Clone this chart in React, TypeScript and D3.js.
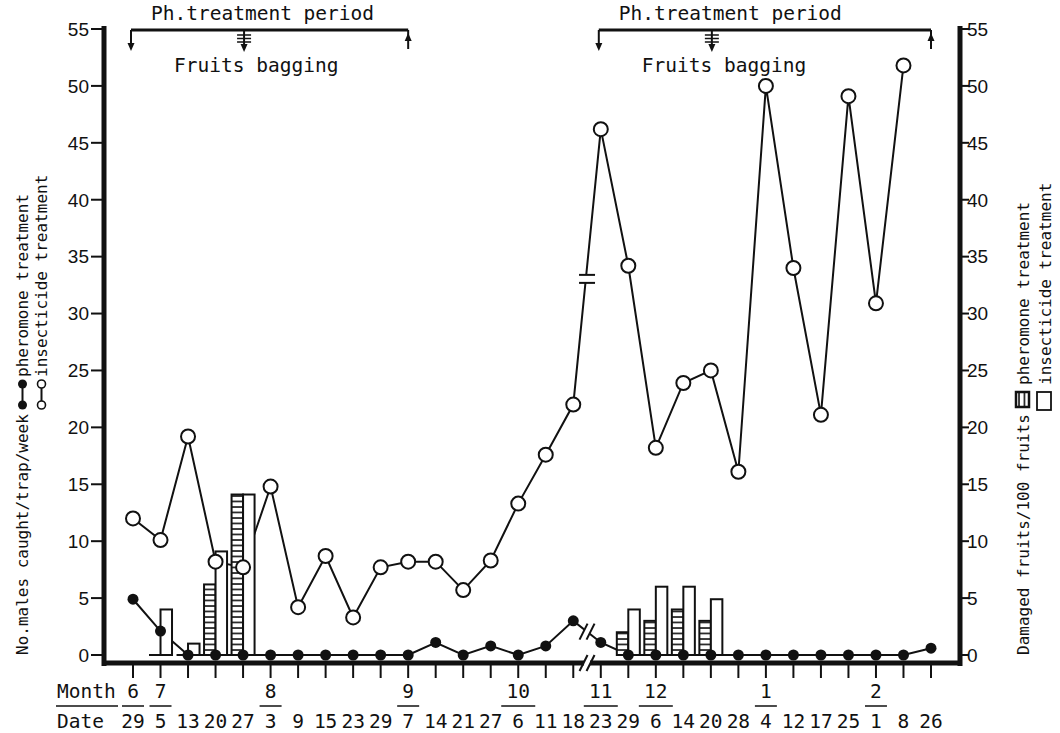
import React, { useEffect, useRef } from 'react';
import * as d3 from 'd3';

// sampling dates (one per trap check), month labels and where they sit
const dateLabels = ['29', '5', '13', '20', '27', '3', '9', '15', '23', '29', '7', '14', '21', '27', '6', '11', '18',
  '23', '29', '6', '14', '20', '28', '4', '12', '17', '25', '1', '8', '26'];
const monthLabels = ['6', '7', '8', '9', '10', '11', '12', '1', '2'];
const monthAt = [0, 1, 5, 10, 14, 17, 19, 23, 27];

// No. males caught / trap / week
const pheromoneMales = [4.9, 2.1, 0, 0, 0, 0, 0, 0, 0, 0, 0, 1.1, 0, 0.8, 0, 0.8, 3.0,
  1.1, 0, 0, 0, 0, 0, 0, 0, 0, 0, 0, 0, 0.6];
const insecticideMales = [12.0, 10.1, 19.2, 8.2, 7.7, 14.8, 4.2, 8.7, 3.3, 7.7, 8.2, 8.2, 5.7, 8.3, 13.3, 17.6, 22.0,
  46.2, 34.2, 18.2, 23.9, 25.0, 16.1, 50.0, 34.0, 21.1, 49.1, 30.9, 51.8, null];

// damaged fruits / 100 fruits
const damageAt = [1, 2, 3, 4, 18, 19, 20, 21];
const damagePheromone = [0, 0, 6.2, 14.1, 2, 3, 4, 3];
const damageInsecticide = [4, 1, 9.1, 14.1, 4, 6, 6, 4.9];

// treatment periods and bagging dates (indices into dateLabels)
const periodStart = [0, 17];
const periodBagging = [4, 21];
const periodEnd = [10, 29];
const breakAfter = 16;

const yTicks = d3.range(0, 56, 5);

const MONO = '"DejaVu Sans Mono", "Liberation Mono", monospace';
const SANS = '"Liberation Sans", Arial, sans-serif';

const App = () => {
  const svgRef = useRef(null);

  useEffect(() => {
    const svg = d3.select(svgRef.current);
    svg.selectAll('*').remove();

    const x = d3.scalePoint().domain(d3.range(dateLabels.length)).range([133, 931]);
    const y = d3.scaleLinear().domain([0, 55]).range([655, 29]);
    const yRight = d3.scaleLinear().domain([0, 55]).range([655, 29]);

    const axisLeftX = 104;
    const axisRightX = 960;
    const axisBottomY = 663;

    // hatch pattern for pheromone bars
    const defs = svg.append('defs');
    const pat = defs.append('pattern')
      .attr('id', 'hatch')
      .attr('patternUnits', 'userSpaceOnUse')
      .attr('width', 12)
      .attr('height', 5.5);
    pat.append('rect').attr('width', 12).attr('height', 5.5).attr('fill', '#fff');
    pat.append('line').attr('x1', 0).attr('x2', 12).attr('y1', 1).attr('y2', 1)
      .attr('stroke', '#111').attr('stroke-width', 1.6);

    const g = svg.append('g');

    // lines first, bars cover them, markers on top
    const lineGen = d3.line()
      .defined(d => d[1] != null)
      .x(d => x(d[0]))
      .y(d => y(d[1]));

    g.append('path')
      .datum(insecticideMales.map((v, i) => [i, v]))
      .attr('fill', 'none')
      .attr('stroke', '#111')
      .attr('stroke-width', 2)
      .attr('d', lineGen);

    g.append('path')
      .datum(pheromoneMales.map((v, i) => [i, v]))
      .attr('fill', 'none')
      .attr('stroke', '#111')
      .attr('stroke-width', 2)
      .attr('d', lineGen);

    // break symbols on the two lines (gap between Oct and Nov)
    const bx = (x(breakAfter) + x(breakAfter + 1)) / 2;
    const openMid = (y(insecticideMales[breakAfter]) + y(insecticideMales[breakAfter + 1])) / 2 + 12;
    g.append('rect').attr('x', bx - 8).attr('y', openMid - 4).attr('width', 16).attr('height', 8).attr('fill', '#fff');
    [-4, 4].forEach(d => {
      g.append('line').attr('x1', bx - 8).attr('x2', bx + 8).attr('y1', openMid + d).attr('y2', openMid + d)
        .attr('stroke', '#111').attr('stroke-width', 2);
    });
    const filledMid = (y(pheromoneMales[breakAfter]) + y(pheromoneMales[breakAfter + 1])) / 2;
    g.append('rect').attr('x', bx - 3).attr('y', filledMid - 9).attr('width', 6).attr('height', 18).attr('fill', '#fff');
    [-3.5, 3.5].forEach(d => {
      g.append('line').attr('x1', bx + d - 4).attr('x2', bx + d + 4).attr('y1', filledMid + 8).attr('y2', filledMid - 8)
        .attr('stroke', '#111').attr('stroke-width', 2);
    });

    // damage bars (right axis)
    const bw = 11.5;
    damageAt.forEach((idx, k) => {
      const cx = x(idx);
      const hp = yRight(0) - yRight(damagePheromone[k]);
      if (hp > 0) {
        g.append('rect')
          .attr('x', cx - bw).attr('y', yRight(damagePheromone[k]))
          .attr('width', bw).attr('height', hp)
          .attr('fill', 'url(#hatch)').attr('stroke', '#111').attr('stroke-width', 2);
      } else {
        g.append('line').attr('x1', cx - bw).attr('x2', cx).attr('y1', yRight(0)).attr('y2', yRight(0))
          .attr('stroke', '#111').attr('stroke-width', 2);
      }
      g.append('rect')
        .attr('x', cx).attr('y', yRight(damageInsecticide[k]))
        .attr('width', bw).attr('height', yRight(0) - yRight(damageInsecticide[k]))
        .attr('fill', '#fff').attr('stroke', '#111').attr('stroke-width', 2);
    });

    // markers
    g.selectAll('.open')
      .data(insecticideMales.map((v, i) => [i, v]).filter(d => d[1] != null))
      .enter()
      .append('circle')
      .attr('class', 'open')
      .attr('cx', d => x(d[0]))
      .attr('cy', d => y(d[1]))
      .attr('r', 7)
      .attr('fill', '#fff')
      .attr('stroke', '#111')
      .attr('stroke-width', 2);

    g.selectAll('.dot')
      .data(pheromoneMales.map((v, i) => [i, v]))
      .enter()
      .append('circle')
      .attr('class', 'dot')
      .attr('cx', d => x(d[0]))
      .attr('cy', d => y(d[1]))
      .attr('r', 5.5)
      .attr('fill', '#111');

    // axes frame
    g.append('line').attr('x1', axisLeftX).attr('x2', axisLeftX).attr('y1', 26).attr('y2', 666)
      .attr('stroke', '#111').attr('stroke-width', 5);
    g.append('line').attr('x1', axisRightX).attr('x2', axisRightX).attr('y1', 26).attr('y2', 666)
      .attr('stroke', '#111').attr('stroke-width', 5);
    g.append('line').attr('x1', axisLeftX - 2).attr('x2', axisRightX + 2).attr('y1', axisBottomY).attr('y2', axisBottomY)
      .attr('stroke', '#111').attr('stroke-width', 5);

    // y ticks and labels
    yTicks.forEach(t => {
      g.append('line').attr('x1', axisLeftX - 13).attr('x2', axisLeftX).attr('y1', y(t)).attr('y2', y(t))
        .attr('stroke', '#111').attr('stroke-width', 2);
      g.append('text').attr('x', axisLeftX - 15).attr('y', y(t)).attr('dy', '0.36em')
        .attr('text-anchor', 'end').attr('font-family', SANS).attr('font-size', 19).attr('fill', '#111').text(t);
      g.append('line').attr('x1', axisRightX).attr('x2', axisRightX + 9).attr('y1', yRight(t)).attr('y2', yRight(t))
        .attr('stroke', '#111').attr('stroke-width', 2);
      g.append('text').attr('x', axisRightX + 7).attr('y', yRight(t)).attr('dy', '0.36em')
        .attr('text-anchor', 'start').attr('font-family', SANS).attr('font-size', 19).attr('fill', '#111').text(t);
    });

    // x ticks
    dateLabels.forEach((lab, i) => {
      g.append('line').attr('x1', x(i)).attr('x2', x(i)).attr('y1', axisBottomY + 2).attr('y2', axisBottomY + 15)
        .attr('stroke', '#111').attr('stroke-width', 2);
      g.append('text').attr('x', x(i)).attr('y', 728).attr('text-anchor', 'middle')
        .attr('font-family', MONO).attr('font-size', 19.5).attr('fill', '#111').text(lab);
    });

    // axis break
    g.append('rect').attr('x', bx - 3).attr('y', axisBottomY - 6).attr('width', 6).attr('height', 12).attr('fill', '#fff');
    [-3.5, 3.5].forEach(d => {
      g.append('line').attr('x1', bx + d - 4).attr('x2', bx + d + 4).attr('y1', axisBottomY + 8).attr('y2', axisBottomY - 8)
        .attr('stroke', '#111').attr('stroke-width', 2);
    });

    // month row
    g.append('text').attr('x', 57).attr('y', 698).attr('font-family', MONO).attr('font-size', 19.5)
      .attr('fill', '#111').text('Month');
    g.append('line').attr('x1', 56).attr('x2', 118).attr('y1', 706).attr('y2', 706)
      .attr('stroke', '#111').attr('stroke-width', 1.5);
    g.append('text').attr('x', 57).attr('y', 728).attr('font-family', MONO).attr('font-size', 19.5)
      .attr('fill', '#111').text('Date');
    monthLabels.forEach((m, k) => {
      const mx = x(monthAt[k]);
      const hw = m.length * 6 + 5;
      g.append('text').attr('x', mx).attr('y', 698).attr('text-anchor', 'middle')
        .attr('font-family', MONO).attr('font-size', 19.5).attr('fill', '#111').text(m);
      g.append('line').attr('x1', mx - hw).attr('x2', mx + hw).attr('y1', 706).attr('y2', 706)
        .attr('stroke', '#111').attr('stroke-width', 1.5);
    });

    // treatment period brackets
    periodStart.forEach((s, k) => {
      const x0 = x(s) - 2;
      const x1 = x(periodEnd[k]);
      const xb = x(periodBagging[k]) + 1;
      const ty = 30;
      g.append('line').attr('x1', x0).attr('x2', x1).attr('y1', ty).attr('y2', ty)
        .attr('stroke', '#111').attr('stroke-width', 3);
      // start: arrow down
      g.append('line').attr('x1', x0).attr('x2', x0).attr('y1', ty).attr('y2', 48)
        .attr('stroke', '#111').attr('stroke-width', 2);
      g.append('path').attr('d', `M${x0 - 3.5},43 L${x0 + 3.5},43 L${x0},51 Z`).attr('fill', '#111');
      // bagging: arrow down with bars
      g.append('line').attr('x1', xb).attr('x2', xb).attr('y1', ty).attr('y2', 49)
        .attr('stroke', '#111').attr('stroke-width', 2);
      g.append('path').attr('d', `M${xb - 3.5},44 L${xb + 3.5},44 L${xb},52 Z`).attr('fill', '#111');
      [35, 38.5, 42].forEach(by => {
        g.append('line').attr('x1', xb - 7).attr('x2', xb + 7).attr('y1', by).attr('y2', by)
          .attr('stroke', '#111').attr('stroke-width', 1.5);
      });
      // end: arrow up
      g.append('line').attr('x1', x1).attr('x2', x1).attr('y1', ty).attr('y2', 49)
        .attr('stroke', '#111').attr('stroke-width', 2);
      g.append('path').attr('d', `M${x1 - 3.5},41 L${x1 + 3.5},41 L${x1},33 Z`).attr('fill', '#111');

      g.append('text').attr('x', x0 + 20).attr('y', 20).attr('font-family', MONO).attr('font-size', 19.5)
        .attr('fill', '#111').text('Ph.treatment period');
      g.append('text').attr('x', xb - 70).attr('y', 72).attr('font-family', MONO).attr('font-size', 19.5)
        .attr('fill', '#111').text('Fruits bagging');
    });

    // left title + line legend (rotated)
    const lt1 = g.append('g').attr('transform', 'translate(28,655) rotate(-90)');
    lt1.append('text').attr('font-family', MONO).attr('font-size', 16).attr('fill', '#111')
      .text('No.males caught/trap/week');
    lt1.append('line').attr('x1', 250).attr('x2', 271).attr('y1', -5.5).attr('y2', -5.5)
      .attr('stroke', '#111').attr('stroke-width', 2);
    [250, 271].forEach(cx => lt1.append('circle').attr('cx', cx).attr('cy', -5.5).attr('r', 4.5).attr('fill', '#111'));
    lt1.append('text').attr('x', 278).attr('font-family', MONO).attr('font-size', 16).attr('fill', '#111')
      .text('pheromone treatment');

    const lt2 = g.append('g').attr('transform', 'translate(47,655) rotate(-90)');
    lt2.append('line').attr('x1', 250).attr('x2', 271).attr('y1', -5.5).attr('y2', -5.5)
      .attr('stroke', '#111').attr('stroke-width', 2);
    [250, 271].forEach(cx => lt2.append('circle').attr('cx', cx).attr('cy', -5.5).attr('r', 4)
      .attr('fill', '#fff').attr('stroke', '#111').attr('stroke-width', 1.6));
    lt2.append('text').attr('x', 278).attr('font-family', MONO).attr('font-size', 16).attr('fill', '#111')
      .text('insecticide treatment');

    // right title + bar legend (rotated)
    const rt1 = g.append('g').attr('transform', 'translate(1029,655) rotate(-90)');
    rt1.append('text').attr('font-family', MONO).attr('font-size', 16).attr('fill', '#111')
      .text('Damaged fruits/100 fruits');
    rt1.append('rect').attr('x', 248).attr('y', -13).attr('width', 15).attr('height', 13)
      .attr('fill', 'url(#hatch)').attr('stroke', '#111').attr('stroke-width', 2.5);
    rt1.append('text').attr('x', 270).attr('font-family', MONO).attr('font-size', 16).attr('fill', '#111')
      .text('pheromone treatment');

    const rt2 = g.append('g').attr('transform', 'translate(1051,655) rotate(-90)');
    rt2.append('rect').attr('x', 245).attr('y', -14).attr('width', 18).attr('height', 14)
      .attr('fill', '#fff').attr('stroke', '#111').attr('stroke-width', 1.8);
    rt2.append('text').attr('x', 270).attr('font-family', MONO).attr('font-size', 16).attr('fill', '#111')
      .text('insecticide treatment');
  }, []);

  return (
    <div>
      <style>{'body{margin:0;background:#fff}'}</style>
      <svg ref={svgRef} width={1060} height={733} style={{ display: 'block' }}></svg>
    </div>
  );
};

export default App;
